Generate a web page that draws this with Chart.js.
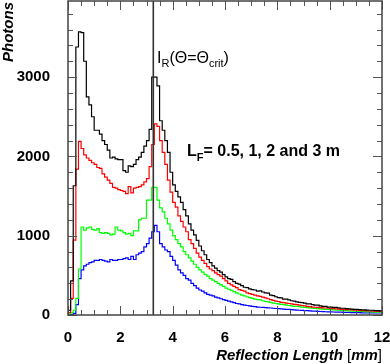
<!DOCTYPE html>
<html>
<head>
<meta charset="utf-8">
<script src="https://cdn.jsdelivr.net/npm/chart.js@4.4.0/dist/chart.umd.min.js"></script>
<style>
  html, body { margin: 0; padding: 0; background: #fff; }
  #wrap { width: 390px; height: 364px; position: relative; }
</style>
</head>
<body>
<div id="wrap"><canvas id="c" width="390" height="364"></canvas></div>
<script>
// histogram bins: 0.1 mm wide, 0 .. 12 mm
const binWidth = 0.1;
const xMax = 12;
const yMax = 3960;
const critX = 3.26;

const xTicks = [0, 2, 4, 6, 8, 10, 12];
const yTicks = [0, 1000, 2000, 3000];

// L_F = 3 m (black)
const black = [
  60, 430, 1630, 3380, 3570, 3560, 3200, 2750, 2650, 2500,
  2330, 2330, 2280, 2200, 2150, 2080, 1980, 1990, 1970, 1960,
  1960, 1820, 1800, 1880, 1870, 1900, 1960, 1990, 2050, 2130,
  2200, 2340, 3000, 3000, 2890, 2450, 2330, 2200, 2050, 1800,
  1640, 1560, 1490, 1420, 1330, 1250, 1150, 1070, 1010, 940,
  870, 810, 760, 700, 660, 620, 590, 560, 540, 510,
  480, 460, 450, 420, 400, 390, 370, 350, 345, 330,
  320, 315, 300, 305, 290, 280, 275, 250, 245, 230,
  220, 215, 200, 200, 190, 180, 175, 165, 160, 155,
  150, 140, 140, 130, 125, 125, 115, 110, 110, 100,
  100, 95, 95, 90, 85, 85, 80, 78, 75, 72,
  70, 68, 66, 65, 62, 60, 60, 56, 55, 52
];
// L_F = 2 m (red)
const red = [
  30, 210, 945, 1840, 2190, 2100, 2020, 1980, 1950, 1920,
  1900, 1860, 1850, 1780, 1740, 1700, 1660, 1610, 1600, 1580,
  1570, 1560, 1530, 1620, 1540, 1600, 1610, 1620, 1640, 1680,
  1720, 1870, 2150, 2410, 2380, 2200, 2050, 1900, 1700, 1550,
  1420, 1360, 1250, 1180, 1110, 1050, 950, 900, 840, 780,
  730, 690, 650, 610, 580, 560, 530, 510, 490, 460,
  430, 400, 380, 360, 345, 320, 310, 300, 280, 270,
  260, 250, 240, 235, 225, 215, 205, 195, 185, 175,
  170, 160, 155, 150, 145, 140, 135, 130, 125, 120,
  115, 110, 105, 100, 98, 95, 92, 90, 88, 85,
  82, 80, 78, 75, 72, 70, 68, 66, 64, 62,
  60, 58, 56, 55, 53, 52, 50, 48, 46, 45
];
// L_F = 1 m (green)
const green = [
  10, 30, 60, 210, 580, 1110, 1070, 1100, 1110, 1080,
  1070, 1090, 1040, 1030, 1040, 1030, 1010, 1020, 1110, 1070,
  1060, 1040, 1020, 1030, 1000, 1060, 1060, 1200, 1220, 1220,
  1450, 1450, 1610, 1610, 1450, 1350, 1300, 1220, 1150, 1070,
  1000, 950, 900, 860, 800, 760, 720, 680, 640, 600,
  570, 540, 510, 490, 460, 440, 420, 400, 380, 360,
  340, 325, 310, 295, 280, 265, 250, 240, 230, 220,
  210, 200, 195, 190, 180, 170, 165, 160, 150, 145,
  140, 135, 130, 125, 120, 115, 110, 108, 105, 100,
  95, 92, 90, 85, 82, 80, 78, 75, 72, 70,
  68, 65, 62, 60, 58, 56, 54, 52, 50, 48,
  46, 45, 44, 42, 40, 40, 38, 37, 36, 35
];
// L_F = 0.5 m (blue)
const blue = [
  0, 5, 20, 130, 460, 570, 620, 640, 660, 670,
  690, 690, 700, 690, 680, 670, 700, 690, 690, 700,
  700, 710, 720, 700, 740, 700, 760, 780, 800, 860,
  900, 970, 1050, 1130, 1050, 900, 860, 820, 800, 740,
  690, 630, 570, 530, 500, 460, 440, 400, 370, 340,
  315, 300, 280, 260, 250, 240, 225, 215, 205, 195,
  185, 175, 165, 155, 145, 140, 130, 125, 120, 115,
  110, 105, 100, 98, 95, 92, 90, 88, 85, 82,
  80, 78, 75, 72, 70, 68, 65, 62, 60, 58,
  56, 54, 52, 50, 48, 46, 44, 42, 41, 40,
  39, 38, 37, 36, 35, 34, 33, 32, 31, 30,
  30, 29, 28, 27, 27, 26, 26, 25, 25, 25
];

function hist(values) {
  const pts = values.map((v, i) => ({ x: +(i * binWidth).toFixed(2), y: v }));
  pts.push({ x: xMax, y: values[values.length - 1] });
  return pts;
}

function line(values, color) {
  return {
    data: hist(values),
    borderColor: color,
    borderWidth: 1.2,
    stepped: 'before',
    pointRadius: 0,
    fill: false,
  };
}

const FONT = 'Liberation Sans, Arial, Helvetica, sans-serif';

// inward ticks on all four sides, frame, critical-angle line and labels
const decor = {
  id: 'decor',
  afterDatasetsDraw(chart) {
    const { ctx, chartArea: a, scales: { x, y } } = chart;
    ctx.save();

    // critical angle line
    const cx = x.getPixelForValue(critX);
    ctx.strokeStyle = '#333';
    ctx.lineWidth = 1.6;
    ctx.beginPath();
    ctx.moveTo(cx, a.top);
    ctx.lineTo(cx, a.bottom);
    ctx.stroke();

    // ticks
    ctx.strokeStyle = '#555';
    ctx.lineWidth = 1;
    ctx.beginPath();
    for (let v = 0; v <= xMax + 1e-9; v += 0.5) {
      const px = Math.round(x.getPixelForValue(v)) + 0.5;
      const len = Math.abs(v % 2) < 1e-9 ? 9 : 5;
      ctx.moveTo(px, a.bottom); ctx.lineTo(px, a.bottom - len);
      ctx.moveTo(px, a.top); ctx.lineTo(px, a.top + len);
    }
    for (let v = 0; v <= yMax; v += 200) {
      const py = Math.round(y.getPixelForValue(v)) + 0.5;
      const len = v % 1000 === 0 ? 9 : 5;
      ctx.moveTo(a.left, py); ctx.lineTo(a.left + len, py);
      ctx.moveTo(a.right, py); ctx.lineTo(a.right - len, py);
    }
    ctx.stroke();

    // frame
    ctx.strokeStyle = '#444';
    ctx.lineWidth = 1.5;
    ctx.strokeRect(a.left, a.top, a.right - a.left, a.bottom - a.top);

    ctx.fillStyle = '#000';
    ctx.textBaseline = 'alphabetic';

    // I_R(Θ=Θ_crit)
    let tx = 157, ty = 63;
    const big = '16px ' + FONT, sub = '11px ' + FONT;
    const seg = (t, f, dy) => { ctx.font = f; ctx.fillText(t, tx, ty + dy); tx += ctx.measureText(t).width; };
    seg('I', big, 0); seg('R', sub, 4); seg('(\u0398=\u0398', big, 0); seg('crit', sub, 4); seg(')', big, 0);

    // L_F = ...
    tx = 187; ty = 156;
    seg('L', 'bold 16px ' + FONT, 0);
    seg('F', 'bold 11px ' + FONT, 5);
    seg('= 0.5, 1, 2 and 3 m', 'bold 16px ' + FONT, 0);

    // x title, right aligned with frame
    const parts = [
      ['Reflection Length ', 'italic bold 15px ' + FONT],
      ['[', '15px ' + FONT],
      ['mm', 'italic bold 15px ' + FONT],
      [']', '15px ' + FONT],
    ];
    let w = 0;
    parts.forEach(p => { ctx.font = p[1]; w += ctx.measureText(p[0]).width; });
    tx = a.right - w; ty = 360;
    parts.forEach(p => seg(p[0], p[1], 0));

    // y title
    ctx.translate(13, 2);
    ctx.rotate(-Math.PI / 2);
    ctx.textAlign = 'right';
    ctx.font = 'italic bold 15px ' + FONT;
    ctx.fillText('Photons', 0, 0);

    ctx.restore();
  }
};

new Chart(document.getElementById('c'), {
  type: 'line',
  data: {
    datasets: [line(black, '#000000'), line(red, '#ff0000'), line(green, '#00ff00'), line(blue, '#0000ff')]
  },
  options: {
    responsive: false,
    animation: false,
    events: [],
    layout: { padding: { top: 1, right: 8, left: 0, bottom: 0 } },
    plugins: { legend: { display: false }, tooltip: { enabled: false } },
    scales: {
      x: {
        type: 'linear',
        min: 0, max: xMax,
        grid: { display: false },
        border: { display: false },
        afterBuildTicks: s => { s.ticks = xTicks.map(v => ({ value: v })); },
        afterFit: s => { s.height = 49; s.paddingLeft = 0; s.paddingRight = 0; },
        ticks: {
          autoSkip: false, maxRotation: 0, padding: 6, color: '#000',
          font: { family: FONT, weight: 'bold', size: 15 },
          callback: v => String(v),
        },
      },
      y: {
        type: 'linear',
        min: 0, max: yMax,
        grid: { display: false },
        border: { display: false },
        afterBuildTicks: s => { s.ticks = yTicks.map(v => ({ value: v })); },
        afterFit: s => { s.width = 68; s.paddingTop = 0; s.paddingBottom = 0; },
        ticks: {
          padding: 10, color: '#000',
          font: { family: FONT, weight: 'bold', size: 15 },
          callback: v => String(v),
        },
      },
    },
  },
  plugins: [decor],
});
</script>
</body>
</html>
